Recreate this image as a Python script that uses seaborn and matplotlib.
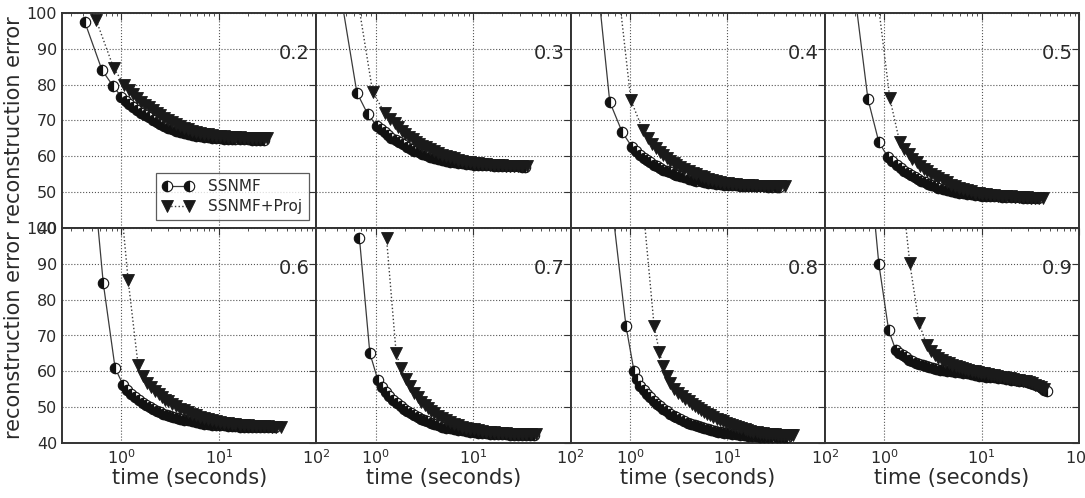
import numpy as np
import pandas as pd
import matplotlib
matplotlib.use("Agg")
import matplotlib.pyplot as plt
import seaborn as sns

# ---------------- data ----------------
panel_labels = ["0.2", "0.3", "0.4", "0.5", "0.6", "0.7", "0.8", "0.9"]
series_names = ["SSNMF", "SSNMF+Proj"]

# panel 0.2
t_ss_02 = [0.42, 0.63, 0.82, 1.0, 1.1, 1.2, 1.3, 1.45, 1.6, 1.75, 1.9, 2.1, 2.3, 2.5, 2.75, 3.0, 3.3, 3.6, 4.0, 4.4, 4.8, 5.3, 5.8, 6.4, 7.0, 7.7, 8.5, 9.3, 10.2, 11.2, 12.3, 13.5, 14.8, 16.3, 18, 19.8, 21.8, 24, 26.4, 29]
e_ss_02 = [97.5, 84.1, 79.6, 76.6, 75.5, 74.6, 73.9, 72.9, 72.1, 71.5, 70.9, 70.2, 69.5, 69.0, 68.5, 68.0, 67.6, 67.2, 66.8, 66.5, 66.2, 66.0, 65.8, 65.6, 65.5, 65.3, 65.2, 65.1, 65.0, 64.9, 64.9, 64.8, 64.8, 64.7, 64.7, 64.7, 64.6, 64.6, 64.6, 64.6]
t_pr_02 = [0.55, 0.83, 1.07, 1.2, 1.3, 1.45, 1.6, 1.75, 1.9, 2.1, 2.3, 2.5, 2.75, 3.0, 3.3, 3.6, 4.0, 4.4, 4.8, 5.3, 5.8, 6.4, 7.0, 7.7, 8.5, 9.3, 10.2, 11.2, 12.3, 13.5, 14.8, 16.3, 18, 19.8, 21.8, 24, 26.4, 29, 31]
e_pr_02 = [98.0, 84.7, 79.9, 78.5, 77.5, 76.3, 75.3, 74.4, 73.7, 72.8, 72.0, 71.4, 70.7, 70.1, 69.5, 69.0, 68.4, 67.9, 67.6, 67.2, 66.9, 66.6, 66.3, 66.1, 65.9, 65.8, 65.7, 65.6, 65.5, 65.4, 65.4, 65.3, 65.2, 65.2, 65.2, 65.1, 65.1, 65.1, 65.1]

# panel 0.3
t_ss_03 = [0.42, 0.64, 0.83, 1.02, 1.12, 1.24, 1.35, 1.45, 1.6, 1.75, 1.9, 2.1, 2.3, 2.5, 2.75, 3.0, 3.3, 3.6, 4.0, 4.4, 4.8, 5.3, 5.8, 6.4, 7.0, 7.7, 8.5, 9.3, 10.2, 11.2, 12.3, 13.5, 14.8, 16.3, 18, 19.8, 21.8, 24, 26.4, 29, 32, 34]
e_ss_03 = [108, 77.8, 71.7, 68.6, 67.6, 66.7, 65.9, 65.2, 64.5, 63.9, 63.4, 62.7, 62.0, 61.6, 61.1, 60.7, 60.3, 59.9, 59.5, 59.2, 59.0, 58.7, 58.5, 58.3, 58.2, 58.1, 57.9, 57.8, 57.7, 57.7, 57.6, 57.5, 57.5, 57.4, 57.3, 57.3, 57.3, 57.2, 57.2, 57.2, 57.1, 57.1]
t_pr_03 = [0.6, 0.93, 1.24, 1.4, 1.57, 1.7, 1.85, 2.0, 2.2, 2.4, 2.6, 2.8, 3.0, 3.3, 3.6, 4.0, 4.4, 4.8, 5.3, 5.8, 6.4, 7.0, 7.7, 8.5, 9.3, 10.2, 11.2, 12.3, 13.5, 14.8, 16.3, 18, 19.8, 21.8, 24, 26.4, 29, 32, 36]
e_pr_03 = [110, 78.0, 72.0, 70.5, 69.4, 68.1, 67.0, 66.2, 65.4, 64.7, 64.1, 63.5, 63.0, 62.5, 62.0, 61.4, 60.9, 60.4, 60.0, 59.7, 59.4, 59.1, 58.8, 58.5, 58.3, 58.2, 58.0, 57.9, 57.8, 57.7, 57.6, 57.5, 57.5, 57.4, 57.3, 57.3, 57.3, 57.2, 57.2]

# panel 0.4
t_ss_04 = [0.45, 0.62, 0.83, 1.05, 1.16, 1.27, 1.38, 1.5, 1.62, 1.75, 1.9, 2.05, 2.2, 2.4, 2.6, 2.8, 3.0, 3.3, 3.6, 4.0, 4.4, 4.8, 5.3, 5.8, 6.4, 7.0, 7.7, 8.5, 9.3, 10.2, 11.2, 12.3, 13.5, 14.8, 16.3, 18, 19.8, 21.8, 24, 26.4, 29, 32, 34]
e_ss_04 = [112, 75.2, 66.8, 62.6, 61.4, 60.4, 59.6, 58.9, 58.3, 57.7, 57.2, 56.7, 56.3, 55.9, 55.5, 55.2, 54.9, 54.5, 54.2, 53.8, 53.5, 53.2, 53.0, 52.8, 52.6, 52.5, 52.3, 52.2, 52.1, 52.0, 51.9, 51.9, 51.8, 51.8, 51.7, 51.7, 51.6, 51.6, 51.6, 51.5, 51.5, 51.5, 51.5]
t_pr_04 = [0.75, 1.02, 1.36, 1.52, 1.69, 1.85, 2.04, 2.2, 2.4, 2.6, 2.8, 3.0, 3.3, 3.6, 4.0, 4.4, 4.8, 5.3, 5.8, 6.4, 7.0, 7.7, 8.5, 9.3, 10.2, 11.2, 12.3, 13.5, 14.8, 16.3, 18, 19.8, 21.8, 24, 26.4, 29, 32, 35, 39]
e_pr_04 = [108, 75.7, 67.3, 65.0, 63.4, 62.2, 61.2, 60.3, 59.5, 58.8, 58.2, 57.7, 57.0, 56.5, 55.9, 55.4, 55.0, 54.5, 54.1, 53.7, 53.4, 53.1, 52.8, 52.6, 52.5, 52.3, 52.2, 52.1, 52.0, 52.0, 51.9, 51.8, 51.8, 51.7, 51.7, 51.7, 51.6, 51.6, 51.6]

# panel 0.5
t_ss_05 = [0.45, 0.68, 0.88, 1.09, 1.2, 1.34, 1.47, 1.6, 1.75, 1.9, 2.05, 2.2, 2.4, 2.6, 2.8, 3.0, 3.3, 3.6, 4.0, 4.4, 4.8, 5.3, 5.8, 6.4, 7.0, 7.7, 8.5, 9.3, 10.2, 11.2, 12.3, 13.5, 14.8, 16.3, 18, 19.8, 21.8, 24, 26.4, 29, 32, 35, 38]
e_ss_05 = [115, 76.0, 64.0, 59.8, 58.6, 57.6, 56.8, 56.0, 55.3, 54.7, 54.2, 53.7, 53.2, 52.8, 52.4, 52.1, 51.7, 51.3, 50.9, 50.6, 50.4, 50.1, 49.9, 49.7, 49.5, 49.4, 49.3, 49.1, 49.0, 48.9, 48.9, 48.8, 48.8, 48.7, 48.7, 48.6, 48.6, 48.6, 48.5, 48.5, 48.5, 48.5, 48.5]
t_pr_05 = [0.82, 1.14, 1.44, 1.6, 1.79, 1.95, 2.15, 2.35, 2.55, 2.75, 3.0, 3.3, 3.6, 4.0, 4.4, 4.8, 5.3, 5.8, 6.4, 7.0, 7.7, 8.5, 9.3, 10.2, 11.2, 12.3, 13.5, 14.8, 16.3, 18, 19.8, 21.8, 24, 26.4, 29, 32, 35, 39, 43]
e_pr_05 = [108, 76.3, 64.0, 62.0, 60.6, 59.3, 58.3, 57.4, 56.6, 55.9, 55.2, 54.5, 53.9, 53.3, 52.7, 52.1, 51.6, 51.2, 50.8, 50.5, 50.2, 49.9, 49.7, 49.6, 49.4, 49.3, 49.1, 49.0, 48.9, 48.8, 48.8, 48.7, 48.6, 48.6, 48.6, 48.5, 48.5, 48.5, 48.5]

# panel 0.6
t_ss_06 = [0.5, 0.65, 0.86, 1.04, 1.14, 1.25, 1.37, 1.5, 1.65, 1.8, 1.95, 2.1, 2.3, 2.5, 2.7, 2.9, 3.15, 3.4, 3.7, 4.0, 4.4, 4.8, 5.3, 5.8, 6.4, 7.0, 7.7, 8.5, 9.3, 10.2, 11.2, 12.3, 13.5, 14.8, 16.3, 18, 19.8, 21.8, 24, 26.4, 29, 32, 35, 38]
e_ss_06 = [118, 84.6, 60.9, 56.2, 54.8, 53.6, 52.7, 51.9, 51.1, 50.5, 50.0, 49.5, 49.0, 48.6, 48.2, 47.9, 47.6, 47.3, 47.0, 46.8, 46.5, 46.3, 46.0, 45.8, 45.6, 45.4, 45.3, 45.1, 45.0, 45.0, 44.9, 44.8, 44.7, 44.7, 44.6, 44.6, 44.5, 44.5, 44.5, 44.4, 44.4, 44.4, 44.4, 44.4]
t_pr_06 = [0.95, 1.17, 1.48, 1.65, 1.83, 2.0, 2.2, 2.4, 2.6, 2.8, 3.0, 3.3, 3.6, 4.0, 4.4, 4.8, 5.3, 5.8, 6.4, 7.0, 7.7, 8.5, 9.3, 10.2, 11.2, 12.3, 13.5, 14.8, 16.3, 18, 19.8, 21.8, 24, 26.4, 29, 32, 35, 39, 43]
e_pr_06 = [112, 85.5, 61.8, 58.7, 56.7, 55.5, 54.5, 53.6, 52.8, 52.1, 51.6, 50.9, 50.3, 49.6, 49.1, 48.6, 48.1, 47.7, 47.3, 47.0, 46.7, 46.4, 46.1, 45.9, 45.7, 45.5, 45.4, 45.2, 45.1, 45.0, 44.9, 44.8, 44.8, 44.7, 44.7, 44.7, 44.6, 44.6, 44.6]

# panel 0.7
t_ss_07 = [0.68, 0.87, 1.05, 1.16, 1.27, 1.38, 1.5, 1.65, 1.8, 1.95, 2.1, 2.3, 2.5, 2.7, 2.9, 3.15, 3.4, 3.7, 4.0, 4.4, 4.8, 5.3, 5.8, 6.4, 7.0, 7.7, 8.5, 9.3, 10.2, 11.2, 12.3, 13.5, 14.8, 16.3, 18, 19.8, 21.8, 24, 26.4, 29, 32, 35, 38.5, 42]
e_ss_07 = [97.2, 65.1, 57.6, 55.7, 54.2, 53.0, 52.0, 51.1, 50.3, 49.6, 48.9, 48.3, 47.8, 47.3, 46.8, 46.4, 46.0, 45.6, 45.3, 44.9, 44.6, 44.3, 44.1, 43.8, 43.6, 43.5, 43.3, 43.1, 43.0, 42.9, 42.8, 42.7, 42.6, 42.5, 42.5, 42.4, 42.4, 42.3, 42.3, 42.2, 42.2, 42.2, 42.2, 42.2]
t_pr_07 = [1.29, 1.62, 1.82, 2.04, 2.25, 2.5, 2.7, 2.95, 3.2, 3.45, 3.7, 4.0, 4.4, 4.8, 5.3, 5.8, 6.4, 7.0, 7.7, 8.5, 9.3, 10.2, 11.2, 12.3, 13.5, 14.8, 16.3, 18, 19.8, 21.8, 24, 26.4, 29, 32, 35, 39, 44]
e_pr_07 = [97.2, 65.1, 60.8, 57.9, 55.8, 54.0, 52.7, 51.5, 50.6, 49.7, 49.0, 48.3, 47.6, 47.0, 46.4, 45.9, 45.4, 45.0, 44.6, 44.3, 44.0, 43.8, 43.6, 43.4, 43.2, 43.1, 43.0, 42.8, 42.8, 42.7, 42.6, 42.6, 42.5, 42.5, 42.5, 42.4, 42.4]

# panel 0.8
t_ss_08 = [0.6, 0.91, 1.1, 1.18, 1.27, 1.38, 1.5, 1.62, 1.75, 1.9, 2.05, 2.2, 2.4, 2.6, 2.8, 3.0, 3.3, 3.6, 3.9, 4.2, 4.6, 5.0, 5.4, 5.8, 6.3, 6.8, 7.4, 8.0, 8.6, 9.3, 10.2, 11.2, 12.3, 13.5, 14.8, 16.3, 18, 19.8, 21.8, 24, 26.4, 29, 32, 35, 38, 41]
e_ss_08 = [115, 72.6, 60.1, 57.8, 55.9, 54.7, 53.6, 52.7, 51.8, 51.0, 50.2, 49.6, 48.8, 48.2, 47.6, 47.2, 46.6, 46.1, 45.7, 45.4, 45.0, 44.7, 44.4, 44.2, 43.9, 43.6, 43.4, 43.2, 43.0, 42.9, 42.7, 42.5, 42.4, 42.2, 42.1, 42.0, 41.9, 41.9, 41.8, 41.7, 41.7, 41.7, 41.6, 41.6, 41.6, 41.6]
t_pr_08 = [1.3, 1.77, 2.0, 2.19, 2.38, 2.58, 2.8, 3.1, 3.4, 3.7, 4.0, 4.3, 4.65, 5.0, 5.4, 5.8, 6.2, 6.7, 7.2, 7.8, 8.4, 9.0, 9.7, 10.4, 11.2, 12.0, 13.0, 13.9, 15.0, 16.0, 17.2, 18.5, 20, 21.4, 23, 24.7, 26.6, 28.5, 30.7, 33, 35.5, 38, 40.5, 43, 45, 47]
e_pr_08 = [112, 72.6, 65.5, 61.5, 58.8, 56.7, 55.2, 54.0, 53.1, 52.4, 51.7, 51.0, 50.4, 49.8, 49.2, 48.7, 48.2, 47.7, 47.3, 46.8, 46.4, 46.0, 45.6, 45.3, 45.0, 44.7, 44.4, 44.1, 43.8, 43.6, 43.4, 43.2, 43.0, 42.9, 42.7, 42.6, 42.5, 42.4, 42.4, 42.3, 42.3, 42.2, 42.2, 42.1, 42.1, 42.1]

# panel 0.9
t_ss_09 = [0.72, 0.88, 1.11, 1.31, 1.42, 1.55, 1.68, 1.8, 1.95, 2.1, 2.3, 2.5, 2.7, 2.9, 3.15, 3.4, 3.7, 4.0, 4.4, 4.8, 5.3, 5.8, 6.4, 7.0, 7.7, 8.5, 9.3, 10.2, 11.2, 12.3, 13.5, 14.8, 16.3, 18, 19.8, 21.8, 24, 26.4, 29, 31.5, 34, 36.5, 39, 41.5, 44, 47]
e_ss_09 = [115, 90.0, 71.5, 66.0, 65.2, 64.5, 63.9, 63.3, 62.8, 62.4, 62.0, 61.7, 61.4, 61.1, 60.9, 60.7, 60.5, 60.3, 60.1, 60.0, 59.8, 59.7, 59.5, 59.4, 59.2, 59.0, 58.8, 58.6, 58.5, 58.4, 58.3, 58.2, 58.0, 57.8, 57.7, 57.6, 57.4, 57.3, 57.0, 56.8, 56.5, 56.2, 55.8, 55.3, 54.9, 54.4]
t_pr_09 = [1.5, 1.83, 2.27, 2.74, 3.0, 3.3, 3.6, 3.9, 4.25, 4.6, 5.0, 5.4, 5.85, 6.3, 6.8, 7.3, 7.9, 8.5, 9.2, 9.9, 10.7, 11.5, 12.4, 13.4, 14.5, 15.6, 16.8, 18.1, 19.5, 21, 22.6, 24.4, 26.3, 28.3, 30.5, 32.8, 35.3, 38, 41, 44]
e_pr_09 = [112, 90.2, 73.5, 67.3, 65.8, 64.6, 63.8, 63.2, 62.7, 62.2, 61.8, 61.5, 61.2, 60.9, 60.6, 60.4, 60.2, 60.0, 59.8, 59.6, 59.4, 59.2, 59.0, 58.9, 58.7, 58.5, 58.3, 58.2, 58.0, 57.9, 57.7, 57.6, 57.4, 57.2, 57.0, 56.7, 56.3, 56.0, 55.5, 55.0]

ss_times = [t_ss_02, t_ss_03, t_ss_04, t_ss_05, t_ss_06, t_ss_07, t_ss_08, t_ss_09]
ss_errs = [e_ss_02, e_ss_03, e_ss_04, e_ss_05, e_ss_06, e_ss_07, e_ss_08, e_ss_09]
pr_times = [t_pr_02, t_pr_03, t_pr_04, t_pr_05, t_pr_06, t_pr_07, t_pr_08, t_pr_09]
pr_errs = [e_pr_02, e_pr_03, e_pr_04, e_pr_05, e_pr_06, e_pr_07, e_pr_08, e_pr_09]

y_ticks = [40, 50, 60, 70, 80, 90, 100]

# ---------------- styling ----------------
sns.set_theme(style="white")
plt.rcParams["font.family"] = ["DejaVu Sans"]
plt.rcParams["mathtext.fontset"] = "dejavusans"

TXT = "#2a2a2a"
fig, axes = plt.subplots(2, 4, figsize=(10.85, 4.98), dpi=100, sharex=True, sharey=True)
fig.subplots_adjust(left=62 / 1085, right=1079 / 1085, top=1 - 13 / 498,
                    bottom=1 - 443 / 498, wspace=0, hspace=0)

for i, ax in enumerate(axes.flat):
    ax.set_xscale("log")
    df_ss = pd.DataFrame({"t": ss_times[i], "err": ss_errs[i]})
    df_pr = pd.DataFrame({"t": pr_times[i], "err": pr_errs[i]})
    # half-filled circles: white right half drawn first, black left half on top
    sns.lineplot(data=df_ss, x="t", y="err", ax=ax, color="#3a3a3a", lw=0.9,
                 linestyle="-", marker="o", markersize=7.5, fillstyle="right",
                 markerfacecolor="white", markerfacecoloralt="#111111",
                 markeredgecolor="#111111", markeredgewidth=0.8,
                 label=series_names[0], legend=False, zorder=3)
    sns.lineplot(data=df_pr, x="t", y="err", ax=ax, color="#3a3a3a", lw=1.0,
                 linestyle=":", marker="v", markersize=8,
                 markerfacecolor="#1a1a1a", markeredgecolor="#1a1a1a",
                 markeredgewidth=0.6, label=series_names[1], legend=False, zorder=4)
    ax.set_xlim(0.245, 100)
    ax.set_ylim(40, 100)
    ax.set_yticks(y_ticks)
    ax.grid(True, which="major", linestyle=":", color="#555555", linewidth=0.8)
    ax.tick_params(which="both", direction="in", top=True, right=True,
                   colors="#333333", labelcolor=TXT, labelsize=11.5)
    ax.tick_params(which="major", length=5, width=0.8)
    ax.tick_params(which="minor", length=2.5, width=0.6)
    for sp in ax.spines.values():
        sp.set_color("#333333")
        sp.set_linewidth(1.4)
    ax.set_xlabel("")
    ax.set_ylabel("")
    ax.text(0.975, 0.81, panel_labels[i], transform=ax.transAxes, ha="right",
            va="center", fontsize=14, color=TXT)

for ax in axes[1, :]:
    ax.set_xlabel("time (seconds)", fontsize=15, color=TXT, labelpad=1)
for ax in axes[:, 0]:
    ax.set_ylabel("reconstruction error", fontsize=15, color=TXT, labelpad=2)

leg = axes[0, 0].legend(loc="lower right", numpoints=2, fontsize=11,
                        frameon=True, fancybox=False, edgecolor="#333333",
                        borderaxespad=0.5, handlelength=2.0, handletextpad=1.0,
                        labelspacing=0.35, borderpad=0.4)
leg.get_frame().set_linewidth(0.9)
for t in leg.get_texts():
    t.set_color(TXT)

fig.savefig("out.png", dpi=100)
